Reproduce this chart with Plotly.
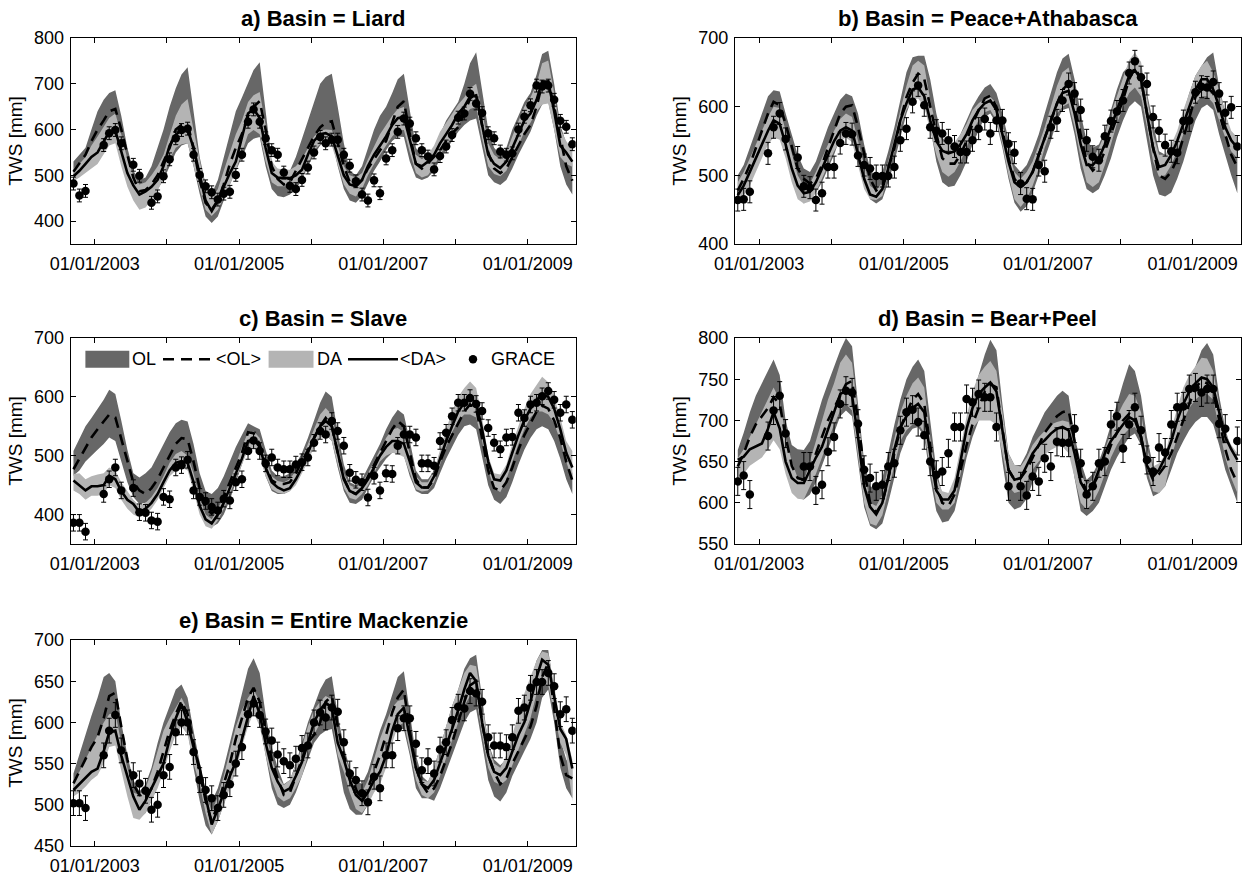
import plotly.graph_objects as go

W, H = 1252, 877

# monthly time axis (mid-month), Sep 2002 .. Aug 2009
dates = []
for k in range(84):
    m = 8 + k
    dates.append(f"{2002 + m // 12}-{m % 12 + 1:02d}-15")

year_ticks = ["2003-01-01", "2004-01-01", "2005-01-01", "2006-01-01",
              "2007-01-01", "2008-01-01", "2009-01-01"]
year_labels = ["01/01/2003", "", "01/01/2005", "", "01/01/2007", "", "01/01/2009"]

# ---------------- a) Liard ----------------
liard_ol_mean = [508, 525, 545, 575, 600, 620, 640, 645, 600, 545, 495, 465,
                 468, 480, 500, 530, 560, 600, 610, 612, 560, 490, 440, 425,
                 445, 480, 525, 560, 590, 630, 650, 662, 600, 520, 492, 480,
                 485, 510, 535, 560, 585, 605, 615, 618, 570, 520, 485, 476,
                 490, 515, 535, 555, 575, 615, 650, 662, 590, 525, 515, 526,
                 540, 555, 575, 592, 605, 635, 668, 678, 610, 550, 515, 505,
                 515, 540, 565, 590, 610, 650, 700, 705, 650, 580, 520, 488]
liard_ol_hi = [530, 545, 560, 600, 640, 665, 680, 686, 630, 560, 510, 490,
               495, 520, 560, 600, 650, 690, 720, 736, 640, 540, 480, 460,
               490, 540, 590, 640, 670, 700, 730, 747, 640, 530, 510, 500,
               510, 540, 580, 620, 660, 700, 715, 722, 650, 570, 510, 500,
               520, 560, 600, 630, 650, 680, 710, 722, 640, 560, 540, 540,
               560, 590, 620, 640, 660, 700, 745, 769, 690, 600, 560, 545,
               560, 600, 630, 660, 680, 720, 765, 772, 700, 610, 570, 534]
liard_ol_lo = [490, 500, 510, 530, 545, 570, 600, 610, 560, 500, 470, 450,
               452, 460, 470, 490, 520, 550, 565, 570, 520, 460, 410, 396,
               410, 445, 480, 510, 540, 570, 580, 584, 520, 470, 455, 452,
               458, 470, 490, 520, 545, 565, 575, 577, 520, 470, 445, 440,
               455, 480, 510, 530, 555, 575, 585, 584, 530, 495, 490, 495,
               510, 535, 555, 575, 595, 610, 620, 624, 560, 500, 485, 479,
               490, 515, 545, 570, 595, 630, 655, 660, 600, 520, 480, 458]
liard_da_mean = [498, 510, 525, 540, 550, 575, 595, 598, 555, 505, 478, 458,
                 465, 475, 490, 520, 565, 588, 600, 600, 560, 505, 445, 422,
                 445, 475, 505, 530, 580, 635, 645, 625, 560, 505, 495, 494,
                 494, 500, 512, 545, 575, 590, 592, 585, 545, 500, 480, 476,
                 490, 520, 545, 565, 585, 610, 625, 628, 575, 525, 520, 530,
                 545, 570, 590, 610, 635, 650, 672, 675, 610, 545, 525, 516,
                 530, 560, 590, 620, 635, 665, 705, 705, 640, 565, 550, 530]
liard_da_hi = [515, 525, 540, 565, 585, 605, 625, 635, 590, 535, 500, 480,
               485, 500, 520, 545, 590, 630, 655, 667, 600, 530, 470, 450,
               470, 510, 550, 590, 620, 660, 675, 682, 610, 530, 515, 512,
               512, 520, 535, 560, 585, 598, 600, 599, 565, 520, 500, 495,
               505, 535, 565, 590, 610, 630, 645, 649, 600, 545, 535, 545,
               565, 595, 615, 635, 655, 670, 690, 700, 640, 570, 545, 535,
               550, 585, 620, 650, 670, 700, 745, 751, 680, 600, 575, 555]
liard_da_lo = [487, 495, 505, 515, 525, 545, 565, 570, 520, 475, 445, 425,
               430, 445, 465, 495, 535, 560, 568, 570, 520, 470, 425, 411,
               425, 450, 480, 510, 550, 590, 599, 590, 530, 485, 476, 476,
               476, 482, 495, 525, 555, 568, 570, 565, 525, 480, 460, 454,
               470, 500, 525, 545, 565, 585, 598, 599, 550, 505, 495, 500,
               520, 545, 565, 585, 610, 630, 645, 649, 580, 520, 503, 498,
               510, 540, 565, 595, 615, 640, 655, 657, 600, 540, 525, 519]
liard_grace = [482, 456, 466, None, None, 566, 592, 599, 570, None, 523, 499,
               None, 440, 454, 498, 535, 581, 599, 602, 545, 501, 476, 463,
               447, 460, 464, 501, 545, 617, 644, 617, 581, 555, 545, 506,
               477, 470, 490, 517, 550, 584, 570, 578, 578, 545, 521, 487,
               458, 445, 489, 461, 537, 555, 595, 624, 613, 581, 555, 541,
               513, 542, 563, 588, 626, 635, 678, 657, 636, 592, 581, 552,
               545, 548, 600, 628, 653, 696, 694, 696, 665, 619, 606, 568]

# ---------------- b) Peace+Athabasca ----------------
peace_ol_mean = [478, 495, 515, 540, 565, 590, 607, 602, 575, 540, 510, 495,
                 488, 495, 515, 540, 565, 590, 600, 602, 570, 530, 495, 478,
                 485, 510, 540, 580, 614, 635, 648, 640, 600, 560, 525, 517,
                 517, 530, 550, 575, 595, 612, 616, 600, 565, 525, 495, 483,
                 490, 505, 530, 555, 580, 604, 625, 633, 600, 560, 520, 507,
                 515, 535, 560, 585, 610, 640, 657, 640, 590, 540, 500, 495,
                 505, 525, 555, 585, 614, 625, 628, 620, 590, 560, 530, 512]
peace_ol_hi = [500, 515, 540, 565, 590, 615, 624, 622, 590, 560, 530, 510,
               505, 520, 545, 570, 590, 610, 619, 615, 590, 545, 510, 495,
               505, 535, 570, 610, 650, 672, 674, 674, 640, 590, 555, 545,
               545, 560, 580, 600, 615, 628, 633, 620, 590, 550, 515, 505,
               515, 535, 560, 590, 620, 650, 670, 677, 640, 590, 550, 540,
               545, 565, 595, 625, 650, 660, 665, 655, 620, 575, 535, 530,
               540, 560, 590, 620, 645, 660, 672, 679, 630, 590, 560, 540]
peace_ol_lo = [470, 480, 495, 510, 530, 555, 575, 570, 540, 500, 470, 459,
               465, 475, 490, 510, 530, 555, 565, 560, 530, 490, 465, 459,
               465, 490, 520, 555, 590, 615, 625, 615, 570, 520, 490, 483,
               485, 500, 520, 545, 565, 585, 590, 575, 540, 495, 460, 447,
               455, 475, 500, 525, 550, 580, 595, 598, 560, 510, 480, 474,
               480, 500, 525, 555, 580, 600, 608, 600, 550, 500, 472, 469,
               475, 495, 520, 550, 580, 598, 603, 595, 560, 530, 500, 474]
peace_da_mean = [471, 485, 505, 525, 545, 565, 580, 575, 545, 510, 485, 474,
                 476, 490, 510, 530, 550, 565, 570, 565, 530, 495, 472, 469,
                 480, 510, 545, 580, 605, 625, 628, 615, 580, 550, 536, 532,
                 535, 545, 560, 580, 595, 605, 609, 595, 560, 520, 490, 483,
                 490, 505, 530, 555, 580, 605, 620, 623, 590, 545, 515, 515,
                 525, 545, 570, 595, 620, 645, 653, 640, 590, 540, 512, 515,
                 530, 550, 575, 600, 625, 640, 640, 625, 600, 570, 551, 540]
peace_da_hi = [490, 505, 525, 545, 565, 585, 600, 598, 565, 530, 500, 485,
               488, 505, 525, 545, 565, 582, 590, 585, 550, 515, 485, 478,
               490, 520, 555, 595, 630, 660, 667, 660, 610, 570, 550, 545,
               548, 560, 575, 595, 605, 612, 614, 605, 575, 535, 505, 495,
               505, 520, 545, 570, 600, 630, 650, 657, 615, 565, 530, 525,
               540, 560, 590, 615, 640, 668, 679, 665, 615, 560, 530, 530,
               545, 565, 595, 620, 645, 660, 667, 650, 625, 590, 565, 555]
peace_da_lo = [460, 470, 485, 505, 525, 545, 555, 552, 525, 490, 465, 459,
               462, 475, 495, 515, 535, 550, 555, 548, 515, 480, 465, 464,
               470, 500, 535, 570, 595, 610, 612, 600, 565, 530, 505, 498,
               505, 520, 540, 565, 580, 592, 595, 580, 545, 500, 465, 454,
               465, 485, 510, 540, 565, 590, 600, 605, 570, 525, 490, 483,
               490, 515, 545, 575, 600, 620, 628, 615, 570, 520, 498, 500,
               515, 535, 560, 585, 605, 615, 615, 605, 580, 555, 535, 525]
peace_grace = [464, 465, 476, None, None, 532, 570, 590, 553, None, 526, 484,
               482, 464, 474, 512, 512, 547, 561, 560, 529, 515, 510, 499,
               499, 499, 512, 551, 568, 607, 631, 602, 570, 565, 561, 551,
               542, 534, 534, 551, 568, 582, 561, 580, 580, 546, 533, 488,
               466, 465, 515, 506, 570, 580, 609, 633, 619, 595, 551, 527,
               522, 557, 579, 593, 609, 649, 666, 643, 633, 585, 565, 544,
               535, 533, 579, 580, 621, 629, 628, 636, 619, 591, 599, 542]

# ---------------- c) Slave ----------------
slave_ol_mean = [477, 495, 515, 531, 545, 558, 570, 565, 530, 490, 455, 441,
                 435, 445, 460, 480, 500, 520, 530, 528, 490, 445, 410, 402,
                 410, 430, 455, 480, 505, 540, 538, 520, 485, 458, 452, 452,
                 455, 470, 490, 510, 530, 550, 564, 550, 505, 462, 440, 435,
                 445, 465, 485, 505, 525, 545, 559, 550, 505, 460, 446, 446,
                 460, 490, 515, 535, 555, 575, 587, 580, 530, 475, 445, 441,
                 455, 480, 510, 535, 555, 575, 585, 580, 560, 530, 490, 458]
slave_ol_hi = [508, 530, 550, 564, 580, 595, 612, 605, 560, 510, 470, 463,
               470, 480, 500, 520, 540, 555, 561, 558, 520, 470, 440, 435,
               445, 465, 490, 515, 535, 555, 550, 545, 510, 475, 465, 465,
               470, 485, 505, 530, 560, 590, 609, 600, 540, 485, 455, 450,
               460, 480, 500, 520, 545, 565, 578, 570, 525, 475, 460, 460,
               475, 505, 530, 555, 575, 595, 604, 595, 550, 490, 460, 455,
               470, 500, 530, 555, 575, 595, 604, 600, 580, 550, 510, 470]
slave_ol_lo = [466, 475, 490, 500, 510, 520, 531, 525, 490, 455, 430, 418,
               420, 425, 440, 460, 480, 495, 500, 495, 455, 410, 385, 379,
               385, 400, 425, 455, 485, 515, 519, 505, 465, 440, 435, 435,
               440, 455, 475, 495, 515, 530, 536, 525, 480, 440, 420, 418,
               425, 445, 465, 480, 495, 505, 505, 500, 465, 440, 435, 435,
               445, 470, 495, 515, 535, 550, 553, 545, 500, 450, 425, 418,
               430, 455, 485, 510, 530, 545, 550, 545, 525, 495, 460, 435]
slave_da_mean = [458, 450, 441, 448, 448, 450, 466, 460, 440, 425, 418, 404,
                 410, 420, 435, 455, 475, 488, 491, 488, 455, 415, 392, 385,
                 400, 420, 445, 470, 495, 525, 528, 515, 480, 455, 446, 441,
                 445, 460, 480, 505, 530, 550, 559, 550, 505, 460, 440, 435,
                 445, 460, 480, 500, 515, 525, 525, 520, 490, 455, 446, 446,
                 465, 495, 525, 550, 575, 590, 598, 590, 545, 490, 460, 458,
                 475, 505, 535, 560, 580, 595, 604, 600, 580, 545, 505, 480]
slave_da_hi = [469, 470, 460, 465, 468, 470, 480, 475, 455, 440, 425, 415,
               420, 430, 445, 465, 488, 503, 508, 500, 470, 430, 400, 392,
               410, 430, 455, 485, 515, 540, 542, 530, 495, 465, 457, 455,
               460, 475, 495, 520, 545, 570, 581, 570, 520, 470, 450, 445,
               455, 470, 490, 510, 530, 545, 547, 540, 505, 465, 455, 455,
               475, 510, 545, 575, 600, 615, 626, 615, 565, 500, 470, 468,
               485, 520, 550, 580, 605, 620, 634, 625, 600, 565, 525, 508]
slave_da_lo = [441, 435, 425, 432, 432, 435, 450, 445, 425, 410, 400, 395,
               400, 410, 425, 445, 465, 475, 480, 475, 440, 400, 380, 376,
               390, 410, 435, 460, 485, 510, 514, 500, 465, 443, 437, 435,
               440, 450, 470, 490, 515, 530, 536, 525, 485, 445, 428, 425,
               435, 450, 470, 490, 500, 505, 503, 498, 470, 443, 439, 441,
               455, 485, 515, 540, 560, 570, 570, 565, 525, 475, 445, 438,
               460, 490, 520, 545, 565, 575, 575, 570, 555, 525, 490, 458]
slave_grace = [386, 386, 371, None, None, 435, 460, 480, 441, None, 445, 404,
               403, 390, 388, 430, 426, 480, 484, 493, 441, 430, 423, 413,
               407, 427, 424, 455, 460, 508, 526, 508, 487, 497, 480, 477,
               477, 485, 489, 497, 522, 542, 536, 559, 542, 517, 471, 459,
               455, 429, 466, 441, 470, 469, 517, 536, 536, 531, 487, 487,
               483, 525, 539, 567, 590, 590, 598, 588, 576, 547, 522, 511,
               531, 532, 573, 564, 587, 590, 601, 610, 595, 573, 587, 561]

# ---------------- d) Bear+Peel ----------------
bear_ol_mean = [644, 660, 680, 695, 705, 715, 728, 720, 680, 645, 630, 628,
                640, 660, 680, 700, 715, 730, 744, 748, 700, 640, 600, 588,
                600, 630, 660, 690, 710, 725, 732, 720, 670, 620, 600, 596,
                610, 640, 670, 695, 715, 735, 744, 740, 690, 640, 628, 630,
                640, 655, 670, 685, 695, 705, 710, 712, 675, 635, 612, 620,
                635, 650, 670, 685, 700, 708, 705, 680, 645, 628, 635, 645,
                660, 680, 700, 720, 740, 748, 745, 735, 700, 665, 640, 624]
bear_ol_hi = [664, 685, 710, 730, 745, 760, 774, 755, 700, 670, 665, 664,
              675, 700, 725, 745, 765, 785, 800, 790, 720, 650, 620, 616,
              630, 660, 695, 725, 750, 765, 774, 760, 700, 640, 610, 608,
              625, 660, 700, 730, 755, 780, 798, 785, 720, 660, 646, 646,
              660, 680, 695, 710, 720, 730, 736, 730, 680, 650, 628, 635,
              650, 670, 695, 720, 745, 768, 760, 730, 680, 645, 640, 650,
              675, 700, 725, 745, 765, 785, 794, 780, 730, 690, 665, 652]
bear_ol_lo = [638, 645, 655, 660, 665, 672, 680, 675, 640, 615, 606, 604,
              610, 625, 645, 665, 685, 705, 712, 705, 650, 595, 572, 568,
              575, 600, 630, 660, 680, 690, 692, 680, 630, 590, 576, 578,
              590, 620, 655, 680, 700, 712, 716, 705, 650, 600, 592, 595,
              605, 625, 645, 660, 670, 678, 682, 675, 630, 590, 584, 590,
              600, 620, 640, 655, 668, 680, 684, 670, 630, 608, 612, 620,
              640, 660, 675, 688, 698, 704, 704, 695, 670, 640, 620, 600]
bear_da_mean = [652, 656, 665, 668, 672, 690, 710, 690, 650, 630, 624, 624,
                640, 655, 668, 690, 710, 732, 736, 730, 680, 620, 595, 586,
                600, 630, 665, 692, 705, 715, 720, 710, 660, 615, 604, 604,
                615, 650, 690, 715, 732, 740, 746, 735, 690, 640, 628, 630,
                645, 660, 670, 676, 684, 690, 692, 688, 660, 625, 612, 620,
                640, 660, 675, 685, 695, 704, 700, 680, 645, 632, 640, 655,
                675, 700, 720, 735, 745, 752, 750, 740, 710, 680, 665, 652]
bear_da_hi = [654, 665, 680, 695, 710, 725, 740, 725, 680, 650, 630, 626,
              650, 675, 700, 725, 745, 770, 780, 770, 710, 640, 600, 596,
              610, 645, 680, 710, 730, 745, 752, 740, 680, 630, 614, 612,
              630, 665, 705, 735, 755, 765, 772, 760, 710, 660, 646, 644,
              655, 670, 680, 688, 695, 698, 700, 698, 665, 635, 622, 628,
              645, 665, 685, 705, 720, 732, 730, 710, 665, 644, 648, 658,
              690, 715, 740, 755, 765, 776, 775, 760, 720, 685, 670, 660]
bear_da_lo = [628, 635, 645, 650, 655, 665, 676, 665, 635, 612, 605, 604,
              620, 635, 655, 675, 695, 712, 720, 712, 655, 600, 575, 572,
              585, 615, 645, 675, 688, 695, 696, 685, 640, 600, 592, 592,
              600, 635, 665, 690, 700, 700, 700, 695, 660, 620, 612, 614,
              625, 640, 650, 658, 664, 668, 668, 660, 630, 600, 592, 600,
              615, 635, 655, 670, 682, 690, 692, 680, 640, 614, 612, 620,
              655, 680, 700, 715, 725, 732, 732, 725, 690, 655, 630, 612]
bear_grace = [626, 633, 610, None, None, 681, 712, 730, 684, None, None, 644,
              644, 615, 622, 662, 680, 720, 736, 734, 696, 640, 630, 620,
              622, 644, 648, 688, 710, 713, 698, 682, 650, 634, 638, 660,
              692, 692, 726, 722, 732, 728, 728, 692, None, 620, None, 620,
              609, 632, 626, 654, 644, 674, 673, 673, 690, 648, 610, 620,
              648, 650, 695, 705, 666, 695, 716, 688, 652, 638, 667, 661,
              695, 716, 717, 738, 740, 734, 738, 738, 696, 690, None, 675]

# ---------------- e) Entire Mackenzie ----------------
mack_ol_mean = [526, 540, 555, 570, 582, 605, 632, 636, 595, 555, 525, 512,
                508, 520, 540, 565, 590, 610, 626, 610, 575, 540, 505, 480,
                500, 525, 550, 580, 605, 630, 642, 625, 590, 555, 532, 512,
                515, 535, 555, 575, 585, 600, 625, 632, 595, 560, 535, 520,
                504, 520, 540, 560, 585, 612, 630, 640, 590, 545, 525, 514,
                520, 535, 555, 575, 600, 625, 645, 650, 600, 560, 540, 525,
                532, 550, 565, 580, 595, 620, 655, 672, 620, 560, 536, 532]
mack_ol_hi = [538, 560, 585, 608, 630, 655, 660, 650, 600, 560, 530, 516,
              525, 545, 575, 600, 620, 640, 646, 630, 590, 550, 515, 504,
              520, 545, 575, 605, 635, 665, 678, 660, 610, 570, 545, 525,
              530, 550, 575, 600, 620, 640, 652, 656, 610, 570, 545, 530,
              525, 540, 565, 590, 610, 635, 655, 662, 610, 560, 535, 528,
              545, 570, 595, 620, 640, 665, 678, 682, 630, 575, 555, 548,
              555, 580, 605, 630, 650, 675, 688, 688, 640, 580, 555, 544]
mack_ol_lo = [516, 522, 530, 540, 552, 575, 600, 604, 560, 515, 490, 484,
              490, 505, 525, 550, 575, 598, 608, 590, 545, 505, 475, 464,
              480, 500, 525, 555, 580, 605, 612, 600, 560, 520, 500, 496,
              500, 515, 535, 555, 575, 585, 590, 592, 555, 515, 495, 488,
              488, 500, 520, 545, 565, 585, 592, 592, 560, 520, 508, 508,
              505, 520, 540, 560, 580, 600, 612, 616, 575, 530, 510, 504,
              515, 535, 550, 565, 580, 600, 630, 640, 600, 545, 520, 508]
mack_da_mean = [518, 525, 532, 540, 544, 565, 588, 590, 560, 536, 510, 494,
                505, 520, 535, 550, 580, 605, 622, 600, 570, 545, 510, 476,
                495, 515, 535, 552, 580, 610, 632, 610, 575, 545, 528, 516,
                520, 535, 552, 575, 600, 615, 624, 618, 575, 555, 530, 512,
                505, 515, 530, 540, 560, 590, 610, 618, 580, 545, 525, 520,
                530, 550, 570, 592, 615, 640, 660, 650, 600, 560, 540, 536,
                545, 565, 585, 600, 625, 655, 676, 670, 630, 592, 580, 544]
mack_da_hi = [530, 540, 555, 570, 585, 600, 610, 612, 575, 545, 515, 512,
              520, 540, 565, 590, 605, 618, 630, 615, 580, 550, 515, 492,
              510, 535, 565, 595, 615, 630, 640, 625, 590, 555, 535, 524,
              530, 550, 570, 595, 615, 625, 632, 628, 590, 565, 540, 520,
              515, 530, 555, 580, 600, 618, 626, 628, 590, 550, 530, 528,
              545, 570, 595, 620, 640, 660, 670, 668, 625, 575, 550, 545,
              560, 585, 610, 635, 655, 675, 686, 684, 645, 600, 585, 555]
mack_da_lo = [510, 515, 522, 530, 536, 550, 570, 572, 540, 510, 484, 482,
              490, 505, 520, 540, 565, 585, 595, 585, 550, 525, 490, 464,
              480, 500, 520, 540, 570, 595, 612, 595, 560, 530, 510, 504,
              508, 520, 535, 560, 585, 600, 612, 605, 560, 540, 515, 495,
              490, 500, 515, 525, 545, 575, 595, 600, 565, 530, 512, 508,
              515, 535, 555, 578, 600, 620, 632, 630, 585, 545, 528, 524,
              530, 548, 568, 585, 605, 635, 648, 645, 610, 575, 560, 504]
mack_grace = [502, 502, 496, None, None, 560, 590, 609, 566, None, 536, 526,
              517, 494, 500, 536, 546, 588, 600, 600, 564, 530, 518, 508,
              496, 512, 525, 550, 570, 610, 623, 609, 589, 578, 561, 553,
              548, 556, 569, 572, 600, 612, 606, 618, 613, 576, 538, 530,
              514, 503, 534, 520, 560, 560, 593, 605, 605, 574, 542, 553,
              538, 567, 576, 603, 619, 617, 638, 635, 625, 582, 572, 572,
              570, 582, 614, 618, 642, 649, 649, 660, 644, 610, 616, 590]

# GRACE error-bar half widths (mm)
grace_err = [14, 16, 14, 17, 15]

titles = ["a) Basin = Liard", "b) Basin = Peace+Athabasca", "c) Basin = Slave",
          "d) Basin = Bear+Peel", "e) Basin = Entire Mackenzie"]

series = [
    (liard_ol_hi, liard_ol_lo, liard_ol_mean, liard_da_hi, liard_da_lo, liard_da_mean, liard_grace),
    (peace_ol_hi, peace_ol_lo, peace_ol_mean, peace_da_hi, peace_da_lo, peace_da_mean, peace_grace),
    (slave_ol_hi, slave_ol_lo, slave_ol_mean, slave_da_hi, slave_da_lo, slave_da_mean, slave_grace),
    (bear_ol_hi, bear_ol_lo, bear_ol_mean, bear_da_hi, bear_da_lo, bear_da_mean, bear_grace),
    (mack_ol_hi, mack_ol_lo, mack_ol_mean, mack_da_hi, mack_da_lo, mack_da_mean, mack_grace),
]

y_ranges = [[350, 800], [400, 700], [350, 700], [550, 800], [450, 700]]
y_ticks = [[400, 500, 600, 700, 800], [400, 500, 600, 700], [400, 500, 600, 700],
           [550, 600, 650, 700, 750, 800], [450, 500, 550, 600, 650, 700]]

# panel placement in pixels (left, right, top, bottom)
col_px = [(70.7, 575.7), (735.0, 1240.7)]
row_px = [(38.0, 244.0), (338.0, 544.0), (640.0, 846.0)]
cells = [(0, 0), (0, 1), (1, 0), (1, 1), (2, 0)]

OL_COLOR = "#676767"
DA_COLOR = "#b4b4b4"
FONT = "Arial, Liberation Sans, Helvetica, sans-serif"
DASH = "11px,7px"

fig = go.Figure()
layout_axes = {}
annotations = []
shapes = []

for p in range(5):
    ol_hi, ol_lo, ol_m, da_hi, da_lo, da_m, grace = series[p]
    r, c = cells[p]
    xs = "x" if p == 0 else f"x{p+1}"
    ys = "y" if p == 0 else f"y{p+1}"
    poly_x = dates + dates[::-1]
    fig.add_trace(go.Scatter(x=poly_x, y=ol_hi + ol_lo[::-1], fill="toself",
                             fillcolor=OL_COLOR, line=dict(width=0), mode="lines",
                             hoverinfo="skip", xaxis=xs, yaxis=ys, showlegend=False))
    fig.add_trace(go.Scatter(x=poly_x, y=da_hi + da_lo[::-1], fill="toself",
                             fillcolor=DA_COLOR, line=dict(width=0), mode="lines",
                             hoverinfo="skip", xaxis=xs, yaxis=ys, showlegend=False))
    fig.add_trace(go.Scatter(x=dates, y=ol_m, mode="lines",
                             line=dict(color="black", width=2.6, dash=DASH),
                             xaxis=xs, yaxis=ys, showlegend=False))
    fig.add_trace(go.Scatter(x=dates, y=da_m, mode="lines",
                             line=dict(color="black", width=2.6),
                             xaxis=xs, yaxis=ys, showlegend=False))
    fig.add_trace(go.Scatter(x=dates, y=grace, mode="markers",
                             marker=dict(color="black", size=8.5, line=dict(width=0)),
                             error_y=dict(type="constant", value=grace_err[p], color="black",
                                          thickness=1, width=2.5),
                             xaxis=xs, yaxis=ys, showlegend=False))

    x0, x1 = col_px[c]
    t, b = row_px[r]
    xdom = [x0 / W, x1 / W]
    ydom = [1 - b / H, 1 - t / H]
    xkey = "xaxis" if p == 0 else f"xaxis{p+1}"
    ykey = "yaxis" if p == 0 else f"yaxis{p+1}"
    common = dict(showline=True, linecolor="black", linewidth=1, mirror="ticks",
                  ticks="inside", ticklen=5, tickwidth=1, tickcolor="black",
                  showgrid=False, zeroline=False, automargin=False,
                  tickfont=dict(family=FONT, size=18, color="black"))
    layout_axes[xkey] = dict(domain=xdom, anchor=ys, type="date",
                             range=["2002-09-01", "2009-09-01"],
                             tickmode="array", tickvals=year_ticks, ticktext=year_labels,
                             ticklabelstandoff=3, **common)
    layout_axes[ykey] = dict(domain=ydom, anchor=xs, range=y_ranges[p],
                             tickmode="array", tickvals=y_ticks[p],
                             ticklabelstandoff=2,
                             title=dict(text="TWS [mm]", standoff=6,
                                        font=dict(family=FONT, size=19, color="black")),
                             **common)
    annotations.append(dict(text=f"<b>{titles[p]}</b>", xref="paper", yref="paper",
                            x=(xdom[0] + xdom[1]) / 2, y=ydom[1], xanchor="center",
                            yanchor="bottom", yshift=5, showarrow=False,
                            font=dict(family=FONT, size=22, color="black")))

# ----- legend drawn inside panel c -----
def px(xp):
    return xp / W

def py(yp):
    return 1 - yp / H

leg_y = 359.2
shapes.append(dict(type="rect", xref="paper", yref="paper", x0=px(85.4), x1=px(129.3),
                   y0=py(367.7), y1=py(350.8), fillcolor=OL_COLOR, line=dict(width=0)))
shapes.append(dict(type="line", xref="paper", yref="paper", x0=px(163), x1=px(214),
                   y0=py(leg_y), y1=py(leg_y), line=dict(color="black", width=2.6, dash=DASH)))
shapes.append(dict(type="rect", xref="paper", yref="paper", x0=px(268.6), x1=px(313.5),
                   y0=py(367.7), y1=py(350.8), fillcolor=DA_COLOR, line=dict(width=0)))
shapes.append(dict(type="line", xref="paper", yref="paper", x0=px(348), x1=px(398),
                   y0=py(leg_y), y1=py(leg_y), line=dict(color="black", width=2.6)))
shapes.append(dict(type="circle", xref="paper", yref="paper", x0=px(468.8), x1=px(477.2),
                   y0=py(leg_y + 4.2), y1=py(leg_y - 4.2), fillcolor="black", line=dict(width=0)))
for txt, xp in [("OL", 131.0), ("&lt;OL&gt;", 215.0), ("DA", 315.5),
                ("&lt;DA&gt;", 399.0), ("GRACE", 490)]:
    annotations.append(dict(text=txt, xref="paper", yref="paper", x=px(xp), y=py(leg_y),
                            xanchor="left", yanchor="middle", showarrow=False, borderpad=0,
                            font=dict(family=FONT, size=18, color="black")))

fig.update_layout(template="none", width=W, height=H,
                  margin=dict(l=0, r=0, t=0, b=0, pad=0), autosize=False,
                  paper_bgcolor="white", plot_bgcolor="white", showlegend=False,
                  font=dict(family=FONT, size=18, color="black"),
                  annotations=annotations, shapes=shapes, **layout_axes)

fig.write_html("out.html", config={"displayModeBar": False},
               post_script="document.body.style.margin='0px';")
